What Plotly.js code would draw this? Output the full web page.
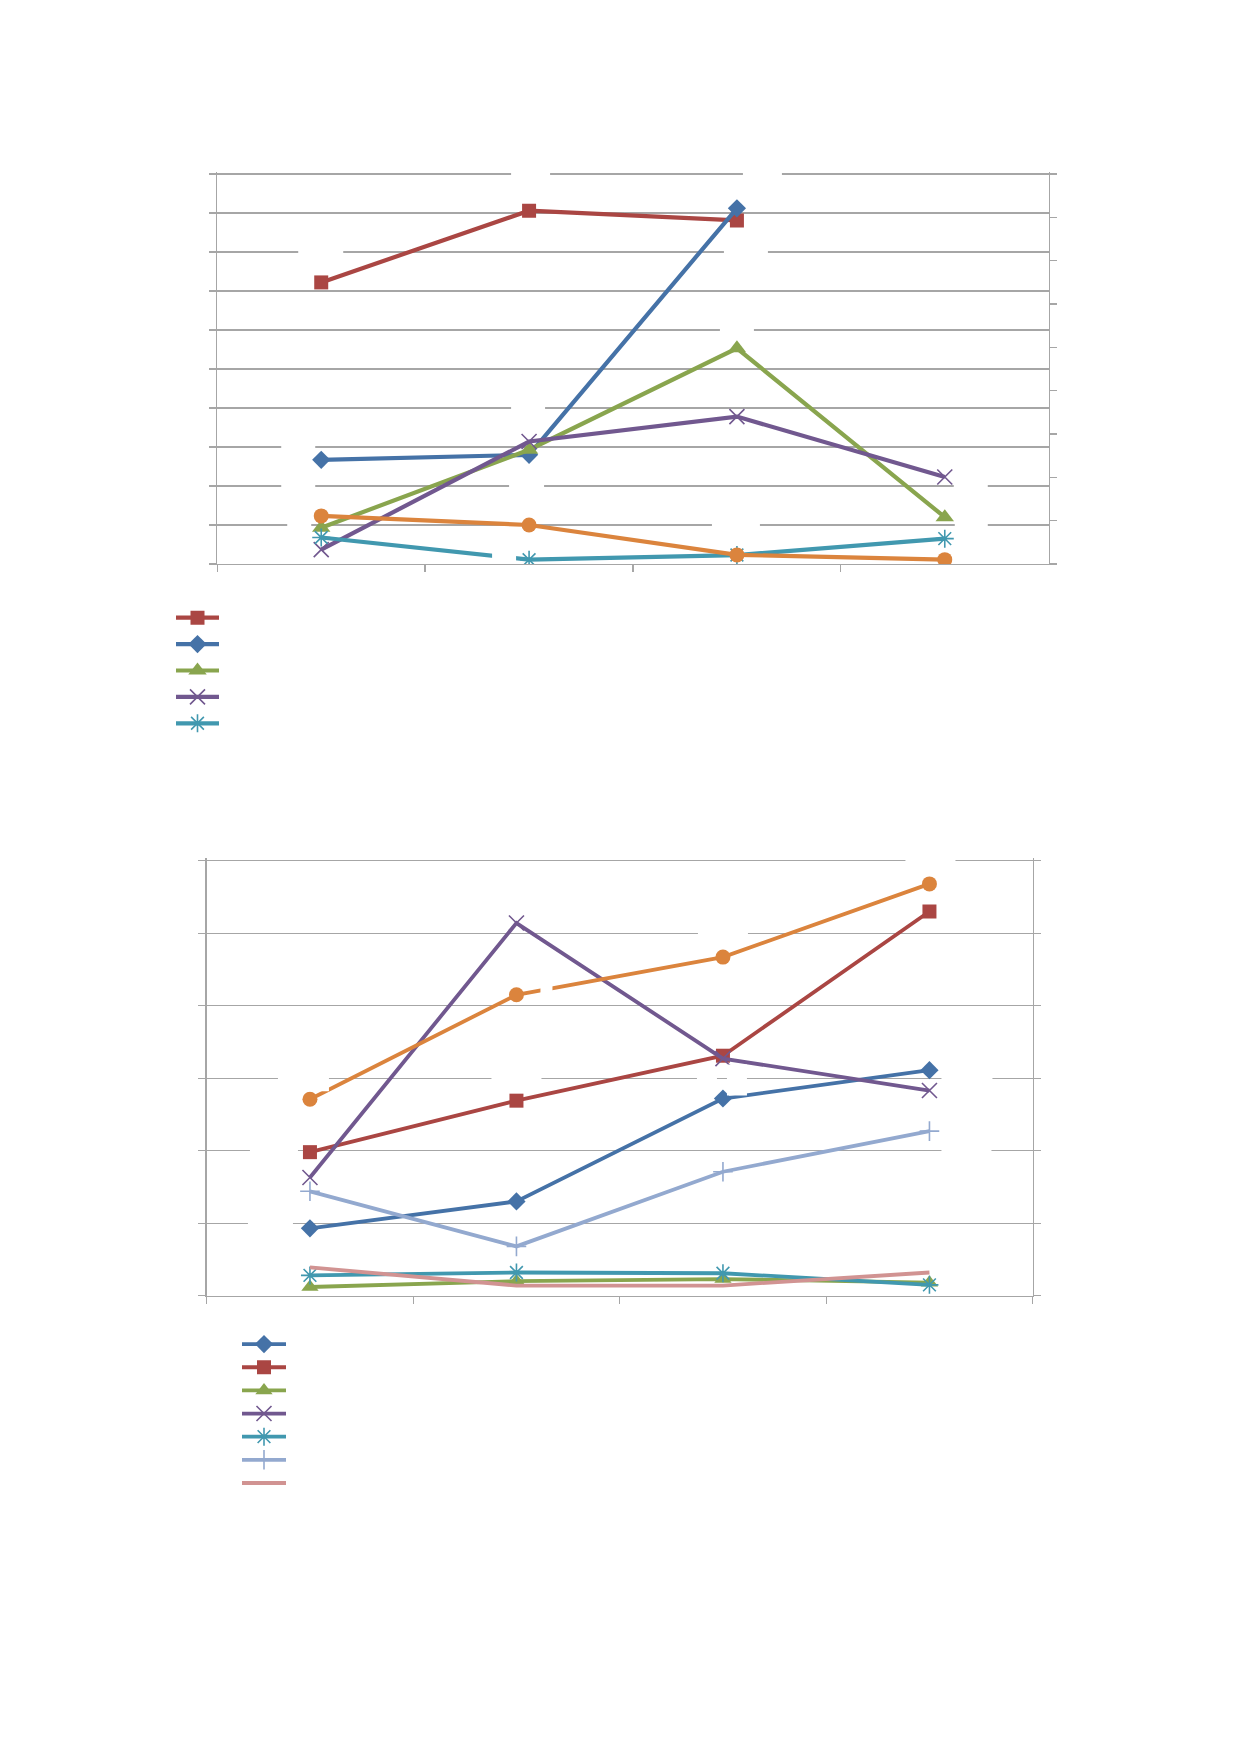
<!DOCTYPE html>
<html>
<head>
<meta charset="utf-8">
<script src="https://cdn.plot.ly/plotly-3.0.1.min.js"></script>
<style>
  html, body { margin: 0; padding: 0; background: #ffffff; }
  #chart { width: 1239px; height: 1752px; }
</style>
</head>
<body>
<div id="chart"></div>
<script>
// category slots (labels are hidden in the picture)
var cats = ['1', '2', '3', '4'];

// top chart, left axis (10 grid steps)
var c1Red    = [7.22, 9.06, 8.81, null];
var c1Blue   = [2.67, 2.80, 9.12, null];
var c1Green  = [0.93, 2.93, 5.53, 1.20];
var c1Purple = [0.37, 3.14, 3.78, 2.23];
var c1Teal   = [0.68, 0.11, 0.23, 0.65];
// top chart, right axis (9 grid steps), not in legend
var c1Orange = [1.11, 0.90, 0.21, 0.10];

// bottom chart (6 grid steps)
var c2Blue   = [0.93, 1.30, 2.72, 3.11];
var c2Red    = [1.98, 2.69, 3.31, 5.30];
var c2Green  = [0.12, 0.20, 0.23, 0.18];
var c2Purple = [1.63, 5.14, 3.27, 2.83];
var c2Teal   = [0.28, 0.32, 0.31, 0.15];
var c2Light  = [1.44, 0.68, 1.71, 2.27];
var c2Pink   = [0.39, 0.14, 0.14, 0.32];
// bottom chart, right axis, not in legend
var c2Orange = [2.71, 4.15, 4.67, 5.68];

var col = {
    blue: '#4572A7', red: '#AA4643', green: '#89A54E', purple: '#71588F',
    teal: '#4198AF', orange: '#DB843D', light: '#93A9CF', pink: '#D19392'
};
var grid = '#a6a6a6';

line = (y, color, symbol, size, xa, ya, lg, width, show) => {
    var open = (symbol === 'x-thin' || symbol === 'asterisk-open' || symbol === 'cross-thin');
    var t = {
        x: cats, y: y, xaxis: xa, yaxis: ya, legend: lg,
        type: 'scatter', mode: symbol ? 'lines+markers' : 'lines',
        name: ' ', showlegend: show,
        line: {color: color, width: width},
        hoverinfo: 'skip'
    };
    if (symbol) {
        t.marker = {symbol: symbol, size: size, color: color,
                    line: {color: color, width: open ? 1.6 : 0}};
    }
    return t;
}

var data = [
    // top chart, legend order
    line(c1Red,    col.red,    'square',        14, 'x', 'y', 'legend', 4.2, true),
    line(c1Blue,   col.blue,   'diamond',       14, 'x', 'y', 'legend', 4.2, true),
    line(c1Green,  col.green,  'triangle-up',   16, 'x', 'y', 'legend', 4.2, true),
    line(c1Purple, col.purple, 'x-thin',        15, 'x', 'y', 'legend', 4.2, true),
    line(c1Teal,   col.teal,   'asterisk-open', 15, 'x', 'y', 'legend', 4.2, true),
    line(c1Orange, col.orange, 'circle',        15, 'x', 'y2', 'legend', 4.2, false),
    // bottom chart
    line(c2Blue,   col.blue,   'diamond',       14, 'x2', 'y3', 'legend2', 3.8, true),
    line(c2Red,    col.red,    'square',        14, 'x2', 'y3', 'legend2', 3.8, true),
    line(c2Green,  col.green,  'triangle-up',   15, 'x2', 'y3', 'legend2', 3.8, true),
    line(c2Purple, col.purple, 'x-thin',        15, 'x2', 'y3', 'legend2', 3.8, true),
    line(c2Teal,   col.teal,   'asterisk-open', 15, 'x2', 'y3', 'legend2', 3.8, true),
    line(c2Light,  col.light,  'cross-thin',    14, 'x2', 'y3', 'legend2', 3.8, true),
    line(c2Pink,   col.pink,   null,            0,  'x2', 'y3', 'legend2', 3.8, true),
    line(c2Orange, col.orange, 'circle',        15, 'x2', 'y4', 'legend2', 3.8, false)
];

// blank data-label boxes (white) that break the gridlines next to some points:
// [series, point index, x/y axes, left, right, top, bottom] in screen px from the point
var labelBoxes = [
    [c1Red, 1, 'x', 'y', -18, 21, -46, -28],
    [c1Blue, 2, 'x', 'y', 6, 45, -44, -26],
    [c1Red, 0, 'x', 'y', -23, 22, -39, -21],
    [c1Red, 2, 'x', 'y', -13, 31, 23, 41],
    [c1Green, 2, 'x', 'y', -17, 17, -28, -11],
    [c1Purple, 1, 'x', 'y', -18, 16, -42, -25],
    [c1Blue, 0, 'x', 'y', -40, -6, -22, -4],
    [c1Orange, 0, 'x', 'y2', -40, -6, -38, -22],
    [c1Green, 1, 'x', 'y', -20, 15, 27, 45],
    [c1Purple, 3, 'x', 'y', 9, 43, 0, 18],
    [c1Orange, 2, 'x', 'y2', -25, 23, -40, -22],
    [c1Green, 3, 'x', 'y', 10, 43, -2, 16],
    [c1Orange, 0, 'x', 'y2', -34, -10, 0, 18],
    [c1Purple, 0, 'x', 'y', -33, -10, 5, 23],
    [c1Orange, 3, 'x', 'y2', 8, 33, -4, 14],
    [c1Teal, 1, 'x', 'y', -37, -13, -14, 3],
    [c2Orange, 0, 'x2', 'y4', -32, 19, -30, -8],
    [c2Red, 1, 'x2', 'y3', -25, 25, -31, -13],
    [c2Red, 0, 'x2', 'y3', -60, -12, -9, 9],
    [c2Orange, 1, 'x2', 'y4', 24, 36, -14, 2],
    [c2Orange, 2, 'x2', 'y4', -25, 25, -33, -15],
    [c2Orange, 3, 'x2', 'y4', -24, 26, -32, -14],
    [c2Blue, 2, 'x2', 'y3', -26, -6, -28, -12],
    [c2Blue, 2, 'x2', 'y3', 4, 24, -34, -3],
    [c2Blue, 3, 'x2', 'y3', 12, 63, 0, 18],
    [c2Light, 3, 'x2', 'y3', 12, 62, 12, 30],
    [c2Blue, 0, 'x2', 'y3', -62, -17, -12, 6],
    [c2Green, 3, 'x2', 'y3', 14, 64, 6, 22]
];
var shapes = labelBoxes.map(b => ({
    type: 'rect', xref: b[2], yref: b[3],
    xsizemode: 'pixel', ysizemode: 'pixel',
    xanchor: b[1], yanchor: b[0][b[1]],
    x0: b[4], x1: b[5], y0: -b[7], y1: -b[6],
    fillcolor: '#ffffff', line: {width: 0}, layer: 'above'
}));

var xBase = {
    type: 'category', range: [-0.5, 3.5], tickson: 'boundaries',
    ticks: 'outside', ticklen: 7, tickwidth: 1.3, tickcolor: grid,
    showline: true, linecolor: grid, linewidth: 1.3,
    showgrid: false, zeroline: false, showticklabels: false, fixedrange: true
};
var yBase = {
    tick0: 0, ticks: 'outside', ticklen: 7, tickwidth: 1.3, tickcolor: grid,
    showline: true, linecolor: grid, linewidth: 1.3,
    showgrid: true, gridcolor: grid, gridwidth: 1.3,
    zeroline: false, showticklabels: false, fixedrange: true
};
var copy = (base, extra) => Object.assign({}, base, extra);

// ranges run a hair past the top gridline so that it is drawn as a gridline
var layout = {
    width: 1239, height: 1752,
    margin: {l: 0, r: 0, t: 0, b: 0},
    paper_bgcolor: '#ffffff', plot_bgcolor: '#ffffff',
    showlegend: true,
    shapes: shapes,
    xaxis:  copy(xBase, {domain: [0.17538, 0.84641], anchor: 'y'}),
    yaxis:  copy(yBase, {domain: [0.678082, 0.902021], anchor: 'x', range: [0, 10.06], dtick: 1}),
    yaxis2: copy(yBase, {overlaying: 'y', side: 'right', anchor: 'x', range: [0, 9.054], dtick: 1, showgrid: false}),
    xaxis2: copy(xBase, {domain: [0.16683, 0.83350], anchor: 'y3'}),
    yaxis3: copy(yBase, {domain: [0.260445, 0.510183], anchor: 'x2', range: [0, 6.035], dtick: 1}),
    yaxis4: copy(yBase, {overlaying: 'y3', side: 'right', anchor: 'x2', range: [0, 6.035], dtick: 1, showgrid: false}),
    legend: {
        x: 171 / 1239, xanchor: 'left', y: 1 - 599.5 / 1752, yanchor: 'top',
        bgcolor: 'rgba(0,0,0,0)', borderwidth: 0, itemwidth: 43,
        font: {family: 'Liberation Sans', size: 18, color: '#000000'},
        traceorder: 'normal', itemclick: false, itemdoubleclick: false
    },
    legend2: {
        x: 237 / 1239, xanchor: 'left', y: 1 - 1327.5 / 1752, yanchor: 'top',
        bgcolor: 'rgba(0,0,0,0)', borderwidth: 0, itemwidth: 44,
        font: {family: 'Liberation Sans', size: 15.5, color: '#000000'},
        traceorder: 'normal', itemclick: false, itemdoubleclick: false
    }
};

Plotly.newPlot('chart', data, layout, {displayModeBar: false, staticPlot: true});
</script>
</body>
</html>
